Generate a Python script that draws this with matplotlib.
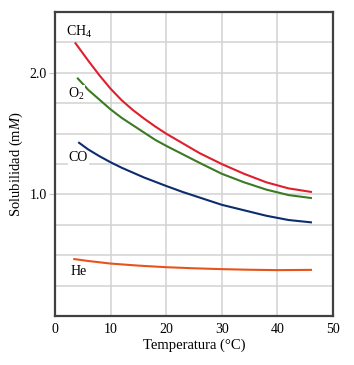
import numpy as np
import matplotlib.pyplot as plt

plt.rcParams['font.family'] = ['Liberation Serif', 'DejaVu Serif']
plt.rcParams['mathtext.fontset'] = 'custom'
plt.rcParams['mathtext.rm'] = 'Liberation Serif'
plt.rcParams['mathtext.it'] = 'Liberation Serif:italic'

# valores (temperatura en C, solubilidad en mM)
t_ch4 = [3.6, 6, 8, 10, 12, 14, 16, 18, 20, 23, 26, 30, 34, 38, 42, 46.2]
s_ch4 = [2.25, 2.10, 1.98, 1.87, 1.775, 1.695, 1.625, 1.56, 1.50, 1.42, 1.34, 1.25,
         1.17, 1.10, 1.05, 1.02]

t_o2 = [4.0, 6, 8, 10, 12, 14, 16, 18, 20, 23, 26, 30, 34, 38, 42, 46.2]
s_o2 = [1.96, 1.86, 1.78, 1.70, 1.63, 1.57, 1.51, 1.45, 1.40, 1.33, 1.26, 1.17,
        1.10, 1.04, 0.995, 0.97]

t_co = [4.2, 6, 8, 10, 12, 14, 16, 18, 20, 23, 26, 30, 34, 38, 42, 46.2]
s_co = [1.43, 1.37, 1.315, 1.265, 1.22, 1.18, 1.14, 1.105, 1.07, 1.02, 0.975, 0.915,
        0.87, 0.825, 0.79, 0.77]

t_he = [3.3, 6, 10, 15, 20, 25, 30, 35, 40, 46.2]
s_he = [0.47, 0.453, 0.432, 0.415, 0.402, 0.393, 0.386, 0.381, 0.378, 0.38]

gases = ['CH$_4$', 'O$_2$', 'CO', 'He']
colores = ['#e01f2d', '#3b7a22', '#0d2c6e', '#e8531c']
etiquetas_pos = [(4.3, 2.34), (3.9, 1.83), (4.2, 1.30), (4.2, 0.37)]

fig = plt.figure(figsize=(3.54, 3.65), dpi=100)
ax = fig.add_axes([0.155, 0.134, 0.786, 0.833])

series = [(t_ch4, s_ch4), (t_o2, s_o2), (t_co, s_co), (t_he, s_he)]
for (t, s), c in zip(series, colores):
    ax.plot(t, s, color=c, lw=1.5, solid_capstyle='butt', zorder=3)

for g, (x, y) in zip(gases, etiquetas_pos):
    ax.text(x, y, g, fontsize=10, ha='center', va='center', zorder=4,
            bbox=dict(facecolor='white', edgecolor='none', pad=0.5))

ax.set_xlim(0, 50)
ax.set_ylim(0, 2.5)
ax.set_xticks(np.arange(0, 51, 10))
ax.set_yticks([1.0, 2.0])
ax.set_yticklabels(['1.0', '2.0'])
ax.set_xticks(np.arange(10, 50, 10), minor=True)
ax.set_yticks(np.arange(0.25, 2.5, 0.25), minor=True)
ax.grid(which='both', color='#d2d2d2', lw=1.1)
ax.set_axisbelow(True)
ax.tick_params(axis='x', which='both', length=0, labelsize=10, pad=5)
ax.tick_params(axis='y', which='major', length=4, color='#c8c8c8', labelsize=10, pad=2)
ax.tick_params(axis='y', which='minor', length=0)

for sp in ax.spines.values():
    sp.set_color('#404040')
    sp.set_linewidth(1.6)

ax.set_xlabel('Temperatura (°C)', fontsize=10.5, labelpad=2)
ax.set_ylabel('Solubilidad (m$M$)', fontsize=10.5, labelpad=3)

fig.savefig('out.png', dpi=100)
